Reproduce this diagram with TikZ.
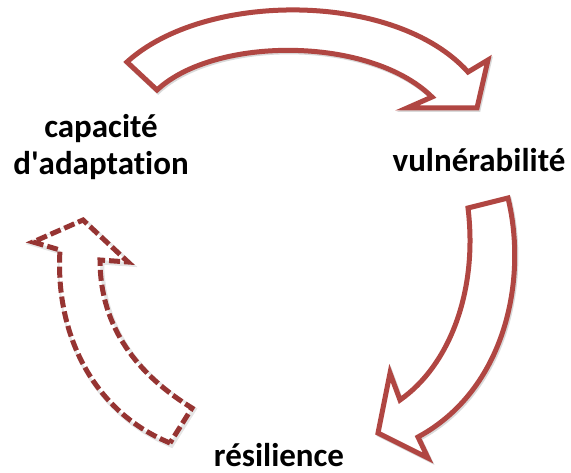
\documentclass[tikz,border=0pt]{standalone}
\usepackage{fontspec}
\setmainfont{Carlito}[Ligatures={NoCommon}]
\definecolor{arrowred}{RGB}{176,70,66}
\definecolor{arrowdark}{RGB}{150,52,50}
\tikzset{
  bigarrow/.style={draw=arrowred, line width=5pt, line join=miter, fill=white,
    preaction={draw=black!15, line width=5pt, transform canvas={xshift=1.2pt, yshift=-1.5pt}}},
  dasharrow/.style={draw=arrowdark, line width=5pt, line join=miter, fill=white,
    dash pattern=on 11pt off 4pt,
    preaction={draw=black!10, line width=6pt, transform canvas={xshift=1.2pt, yshift=-1.5pt}}},
  label/.style={font=\fontsize{33}{37}\selectfont\bfseries, text=black, inner sep=0pt, align=center}
}
\begin{document}
\begin{tikzpicture}[x=1pt, y=-1pt]
  \useasboundingbox (0,0) rectangle (571,473);

  % upper arrow: from capacity towards vulnerability
  \path[bigarrow] (127,62) .. controls (205,-9) and (395,-9) .. (468,72)
    -- (488,60) -- (477,108) -- (407,108) -- (432,97)
    .. controls (370,36) and (215,36) .. (157,90) -- cycle;

  % right arrow: from vulnerability towards resilience
  \path[bigarrow] (508,198) .. controls (528,280) and (505,390) .. (418,437)
    -- (428,458) -- (378,433) -- (390,373) -- (400,400)
    .. controls (450,365) and (478,290) .. (468,208) -- cycle;

  % left arrow, dashed: from resilience towards capacity
  \path[dasharrow] (170,443) .. controls (90,410) and (55,330) .. (60,250)
    -- (33,242) -- (83,220) -- (128,262) -- (100,260)
    .. controls (100,320) and (130,370) .. (192,408) -- cycle;

  \node[label, anchor=base] (cap) at (101,175) {capacité\\d\textquotesingle adaptation};
  \node[label, anchor=base] (vul) at (479,172) {vulnérabilité};
  \node[label, anchor=base] (res) at (279,466) {résilience};
\end{tikzpicture}
\end{document}
